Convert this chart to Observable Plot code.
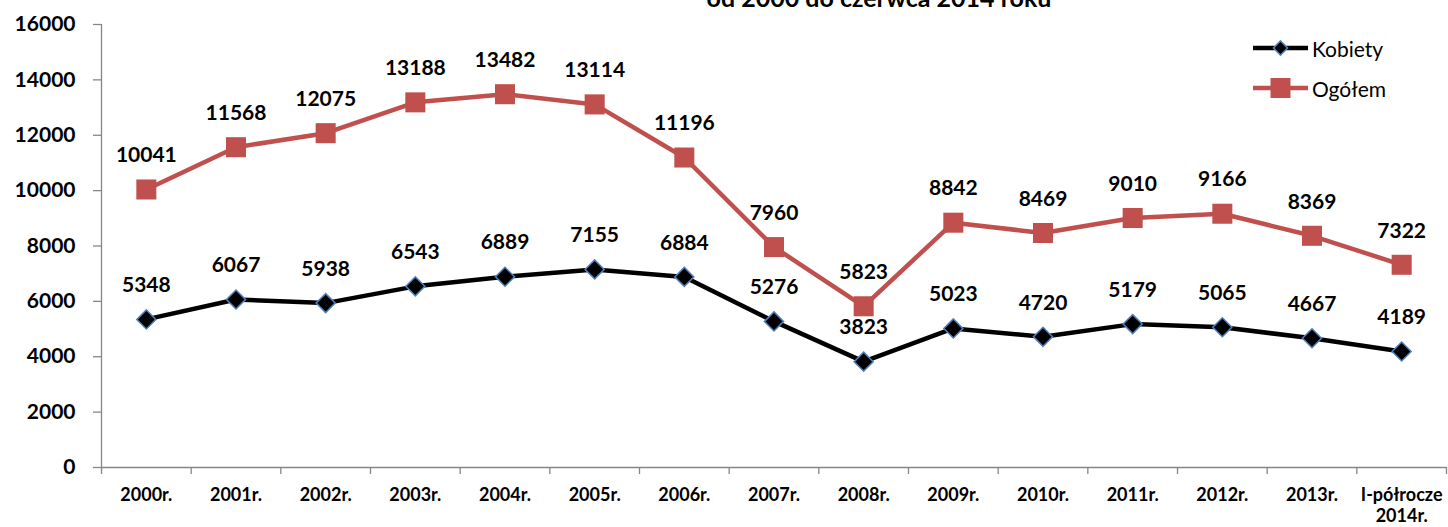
<!DOCTYPE html>
<html>
<head>
<meta charset="utf-8">
<script src="https://cdn.jsdelivr.net/npm/d3@7"></script>
<script src="https://cdn.jsdelivr.net/npm/@observablehq/plot@0.6"></script>
<style>
  html, body { margin: 0; padding: 0; background: #fff; overflow: hidden; }
  #wrap { position: relative; width: 1448px; height: 527px; font-family: Lato, "Open Sans", sans-serif; }
  #title { position: absolute; top: -15px; left: 879px; transform: translateX(-50%); white-space: nowrap;
           font-weight: bold; font-size: 25px; line-height: 25px; color: #000; }
  .leg { position: absolute; left: 1252px; display: flex; align-items: center; font-size: 21px; color: #000; }
  .leg svg { display: block; margin-right: 3px; }
</style>
</head>
<body>
<div id="wrap">
  <div id="chart"></div>
  <div id="title">od 2000 do czerwca 2014 roku</div>
  <div class="leg" style="top:33px">
    <svg width="57" height="30"><line x1="1" y1="15" x2="56" y2="15" stroke="#000" stroke-width="4.5"/><rect x="23.5" y="10" width="10" height="10" transform="rotate(45 28.5 15)" fill="#000" stroke="#4F81BD" stroke-width="1.5"/></svg>
    <span>Kobiety</span>
  </div>
  <div class="leg" style="top:73px">
    <svg width="57" height="30"><line x1="1" y1="15" x2="56" y2="15" stroke="#C0504D" stroke-width="4.5"/><rect x="18.5" y="5" width="20" height="20" fill="#C0504D"/></svg>
    <span>Ogółem</span>
  </div>
</div>
<script>
const categories = ["2000r.","2001r.","2002r.","2003r.","2004r.","2005r.","2006r.","2007r.","2008r.","2009r.","2010r.","2011r.","2012r.","2013r.","I-półrocze\n2014r."];
const kobiety = [5348,6067,5938,6543,6889,7155,6884,5276,3823,5023,4720,5179,5065,4667,4189];
const ogolem = [10041,11568,12075,13188,13482,13114,11196,7960,5823,8842,8469,9010,9166,8369,7322];
const yTicks = [0,2000,4000,6000,8000,10000,12000,14000,16000];

const kData = kobiety.map((v, i) => ({i, v}));
const oData = ogolem.map((v, i) => ({i, v}));
const idx = categories.map((c, i) => i);
const bounds = d3.range(-0.5, categories.length, 1);
const axisColor = "#868686";
const font = "Lato, 'Open Sans', sans-serif";

const chart = Plot.plot({
  width: 1448,
  height: 527,
  marginLeft: 101,
  marginRight: 2,
  marginTop: 24,
  marginBottom: 60,
  style: {fontFamily: font, background: "white", color: "#000"},
  x: {type: "linear", domain: [-0.5, categories.length - 0.5], label: null},
  y: {domain: [0, 16000], label: null},
  marks: [
    Plot.ruleY([0], {x1: -0.5, x2: categories.length - 0.5, stroke: axisColor, strokeWidth: 1.3}),
    Plot.ruleX([-0.5], {y1: 0, y2: 16000, stroke: axisColor, strokeWidth: 1.3}),
    Plot.axisX({ticks: bounds, tickSize: 7, tickFormat: () => "", stroke: axisColor, strokeWidth: 1.3, label: null}),
    Plot.axisX({ticks: idx, tickSize: 0, tickPadding: 18, tickFormat: i => categories[i],
                fontSize: 18, fontWeight: "bold", lineHeight: 1.2, label: null}),
    Plot.axisY({ticks: yTicks, tickSize: 8, tickPadding: 18, stroke: axisColor, strokeWidth: 1.3,
                tickFormat: d => String(d), fontSize: 21, fontWeight: "bold", label: null}),
    Plot.line(oData, {x: "i", y: "v", stroke: "#C0504D", strokeWidth: 4.5}),
    Plot.line(kData, {x: "i", y: "v", stroke: "#000", strokeWidth: 4.5}),
    Plot.dot(oData, {x: "i", y: "v", symbol: "square", r: 11.3, fill: "#C0504D", stroke: "none"}),
    Plot.dot(kData, {x: "i", y: "v", symbol: "square", r: 7.6, rotate: 45, fill: "#000", stroke: "#4F81BD", strokeWidth: 1.5}),
    Plot.text(oData, {x: "i", y: "v", text: d => String(d.v), dy: -34, fontSize: 21, fontWeight: "bold", fill: "#000"}),
    Plot.text(kData, {x: "i", y: "v", text: d => String(d.v), dy: -34, fontSize: 21, fontWeight: "bold", fill: "#000"})
  ]
});
document.getElementById("chart").appendChild(chart);
</script>
</body>
</html>
